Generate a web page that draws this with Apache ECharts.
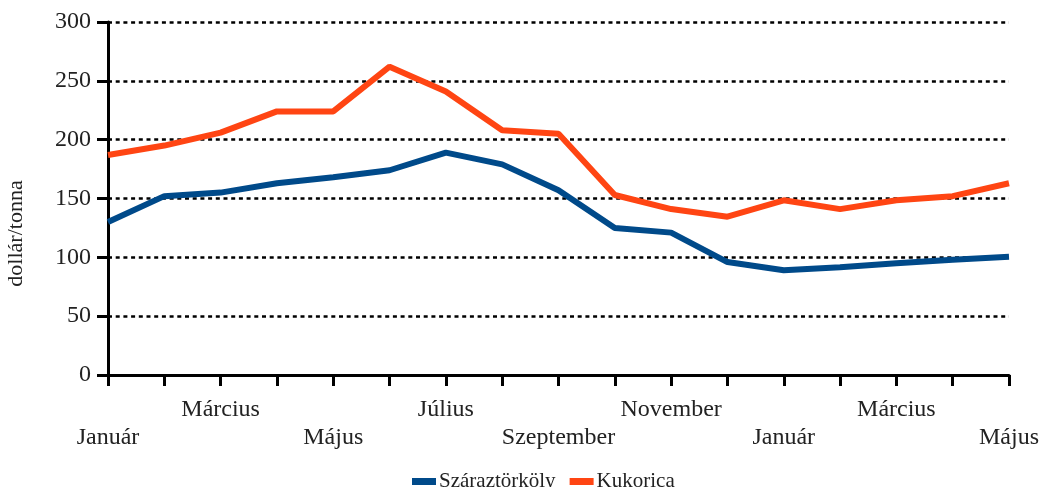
<!DOCTYPE html>
<html>
<head>
<meta charset="utf-8">
<script src="https://cdn.jsdelivr.net/npm/echarts@6/dist/echarts.min.js"></script>
<style>
html,body{margin:0;padding:0;background:#fff;}
#chart{width:1042px;height:487px;}
</style>
</head>
<body>
<div id="chart"></div>
<script>
const categories = ['Január','Február','Március','Április','Május','Június','Július','Augusztus','Szeptember','Október','November','December','Január','Február','Március','Április','Május'];
const szaraztorkoly = [130,152,155,163,168,174,189,179,157,125,121,96,89,91.5,95,98,100.5];
const kukorica = [187,195,206,224,224,262,241,208,205,153,141,134.5,148.5,141,148.5,152,163];
const yTicks = {min:0, max:300, interval:50};
const seriesNames = ['Száraztörköly','Kukorica'];
const colors = ['#004a8a','#ff4513'];

const font = '"Liberation Serif", "DejaVu Serif", serif';
const chart = echarts.init(document.getElementById('chart'));
chart.setOption({
  animation:false,
  color: colors,
  grid:{left:108,right:33,top:22,bottom:112,containLabel:false,outerBoundsMode:'none'},
  legend:{
    data: seriesNames,
    top:466,
    left:407,
    itemWidth:24,
    itemHeight:7,
    itemGap:14,
    icon:'rect',
    textStyle:{fontFamily:font,fontSize:21,color:'#222',padding:[2,0,0,-2]}
  },
  xAxis:{
    type:'category',
    data:categories,
    boundaryGap:false,
    axisLine:{lineStyle:{color:'#000',width:3}},
    axisTick:{show:true,interval:0,length:11,lineStyle:{color:'#000',width:3}},
    axisLabel:{
      interval:0,
      margin:21,
      fontFamily:font,
      fontSize:24,
      color:'#222',
      lineHeight:28,
      formatter:function(v,i){
        if(i%4===0) return '\n'+v;
        if(i%4===2) return v;
        return '';
      }
    },
    splitLine:{show:false}
  },
  yAxis:{
    type:'value',
    min:yTicks.min,max:yTicks.max,interval:yTicks.interval,
    name:'dollár/tonna',
    nameLocation:'middle',
    nameGap:81,
    nameTextStyle:{fontFamily:font,fontSize:22,color:'#222',padding:[0,70,0,0]},
    axisLine:{show:true,lineStyle:{color:'#000',width:3}},
    axisTick:{show:true,length:11,lineStyle:{color:'#000',width:3}},
    axisLabel:{margin:17,fontFamily:font,fontSize:24,color:'#222'},
    splitLine:{show:true,lineStyle:{color:'#000',width:2.5,type:[4,3.7]}}
  },
  series:[
    {name:seriesNames[0],type:'line',data:szaraztorkoly,showSymbol:false,symbol:'none',lineStyle:{width:6,color:colors[0]},z:3},
    {name:seriesNames[1],type:'line',data:kukorica,showSymbol:false,symbol:'none',lineStyle:{width:6,color:colors[1]},z:4}
  ]
});
</script>
</body>
</html>
